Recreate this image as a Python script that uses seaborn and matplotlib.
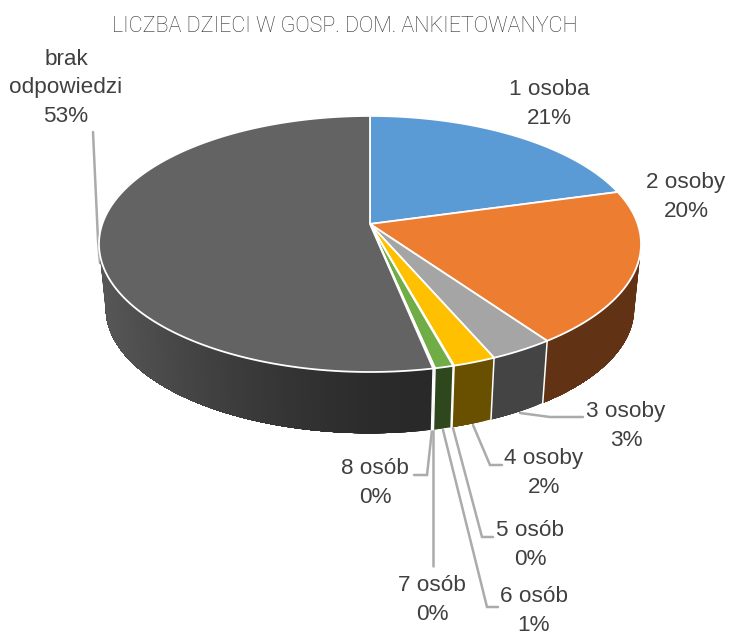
import numpy as np
import matplotlib
matplotlib.use("Agg")
import matplotlib.pyplot as plt
import seaborn as sns

# Data
categories = ['1 osoba', '2 osoby', '3 osoby', '4 osoby', '5 osób', '6 osób', '7 osób', '8 osób', 'brak\nodpowiedzi']
values = [20.7, 19.5, 3.3, 2.2, 0.05, 0.95, 0.05, 0.05, 53.2]
percent_labels = ['21%', '20%', '3%', '2%', '0%', '1%', '0%', '0%', '53%']
title = 'LICZBA DZIECI W GOSP. DOM. ANKIETOWANYCH'

# Style
sns.set_theme(style='white')
plt.rcParams['font.family'] = ['Liberation Sans', 'DejaVu Sans']
palette = sns.color_palette(['#5B9BD5', '#ED7D31', '#A5A5A5', '#FFC000', '#4472C4',
                             '#70AD47', '#255E91', '#9E480E', '#636363'])
text_color = '#404040'
leader_color = '#ABABAB'

# Pie geometry in picture pixels, with a perspective term
cx, cy = 370, 224
a, b, k = 267.7, 124.9, 0.156
scale_low, drop = 0.975, 65


def top_xy(theta):
    w = 1 + k * np.cos(theta)
    return cx + a * np.sin(theta) / w, cy - b * np.cos(theta) / w


def low_xy(theta):
    w = 1 + k * np.cos(theta)
    return cx + scale_low * a * np.sin(theta) / w, cy + drop - scale_low * b * np.cos(theta) / w


def wall_factor(x):
    # side is darkest around the front and lightens toward the left
    t = np.clip((430 - x) / 330, 0, 1)
    return 0.41 + 0.47 * t ** 1.6


fig, ax = plt.subplots(figsize=(7.29, 6.37), dpi=100)
fig.subplots_adjust(0, 0, 1, 1)
ax.set_xlim(0, 729)
ax.set_ylim(637, 0)
ax.axis('off')

edges = np.cumsum([0] + values) / np.sum(values) * 2 * np.pi
th_right, th_left = np.arccos(-k), 2 * np.pi - np.arccos(-k)

# side walls, each step paints from its angle to the end of the piece so no seams show
for i, color in enumerate(palette):
    t0, t1 = max(edges[i], th_right), min(edges[i + 1], th_left)
    if t1 <= t0:
        continue
    steps = np.linspace(t0, t1, max(2, int((t1 - t0) * 60)))
    for s0 in steps[:-1]:
        arc = np.linspace(s0, t1, max(2, int((t1 - s0) * 60)))
        xt, yt = top_xy(arc)
        xl, yl = low_xy(arc[::-1])
        f = wall_factor(top_xy(s0)[0])
        c = tuple(v * f for v in color)
        ax.fill(np.r_[xt, xl], np.r_[yt, yl], facecolor=c, edgecolor='none', zorder=2)

# white seams between the wall pieces
for e in edges[1:-1]:
    if th_right < e < th_left:
        x0, y0 = top_xy(e)
        x1, y1 = low_xy(e)
        ax.plot([x0, x1], [y0, y1], color='white', lw=1.1, zorder=3)

# top face
for i, color in enumerate(palette):
    arc = np.linspace(edges[i], edges[i + 1], max(2, int((edges[i + 1] - edges[i]) * 120)))
    x, y = top_xy(arc)
    ax.fill(np.r_[cx, x], np.r_[cy, y], facecolor=color, edgecolor='white', lw=1.3,
            joinstyle='round', zorder=4)

# Leader lines
leaders = [
    [(93, 132), (98, 240), (100, 263)],
    [(520, 413), (550, 417), (583, 417)],
    [(473, 425), (490, 465), (502, 465)],
    [(453, 428), (482, 537), (493, 537)],
    [(443, 430), (487, 607), (498, 607)],
    [(433, 430), (433, 566)],
    [(432, 430), (427, 475), (414, 475)],
]
for pts in leaders:
    ax.plot(*zip(*pts), color=leader_color, lw=1.8, solid_joinstyle='miter', zorder=1)

# Labels
label_pos = [(549, 104), (686, 197), (626, 426), (544, 473), (530, 545),
             (534, 611), (432, 600), (375, 483), (66, 88)]
for name, pct, (x, y) in zip(categories, percent_labels, label_pos):
    ax.text(x, y, name + '\n' + pct, ha='center', va='center', fontsize=16.2,
            color=text_color, linespacing=1.44, zorder=5)

ax.text(345, 26, title, ha='center', va='center', fontsize=15.5, color='#303030',
        fontfamily=['Roboto', 'DejaVu Sans'], fontweight='light')

fig.savefig('out.png', dpi=100)
